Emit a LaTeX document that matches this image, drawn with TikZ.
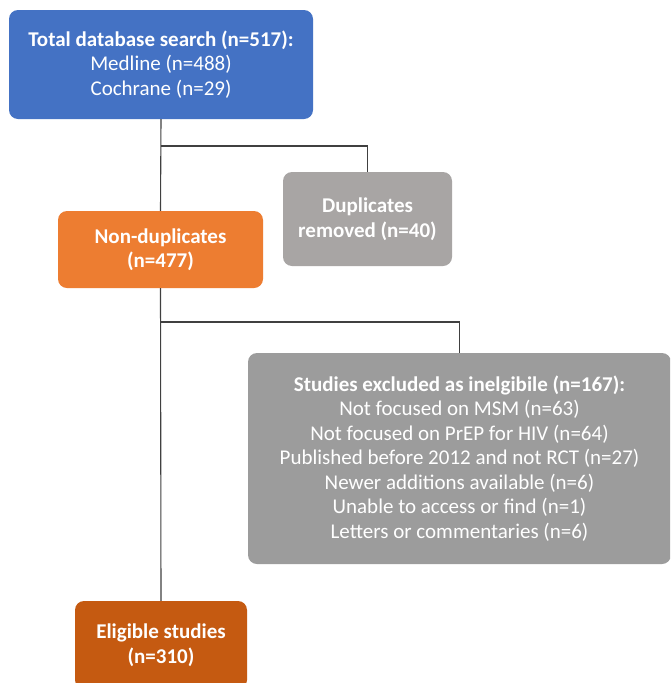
\documentclass[tikz,border=0pt]{standalone}
\usepackage{fontspec}
\setmainfont{Carlito}
\usepackage{tikz}
\usetikzlibrary{calc}
\definecolor{flowblue}{HTML}{4472C4}
\definecolor{floworange}{HTML}{ED7D31}
\definecolor{flowdark}{HTML}{C55A11}
\definecolor{flowgrey}{HTML}{A8A5A4}
\definecolor{flowgreyb}{HTML}{9C9C9C}
\definecolor{flowline}{HTML}{404040}

\begin{document}
\begin{tikzpicture}[x=1pt,y=-1pt,
	box/.style args={#1 and #2 and #3}{rounded corners=9pt,fill=#1,text=white,
		minimum width=#2,minimum height=#3,align=center,inner sep=0pt,
		font=\fontsize{21}{24.5}\selectfont},
	link/.style={draw=flowline,line width=1.1pt}]
	\clip (0,0) rectangle (670,683);
	\fill[white] (0,0) rectangle (670,683);
	\coordinate (B) at (161,146);
	\coordinate (C) at (161,322);
	\node [box={flowblue and 304pt and 109pt}] (search) at (161,64.5)
		{\textbf{Total database search (n=517):}\\Medline (n=488)\\Cochrane (n=29)};
	\node [box={flowgrey and 169pt and 94pt}] (dupl) at (367.5,219)
		{\textbf{Duplicates}\\\textbf{removed (n=40)}};
	\node [box={floworange and 205pt and 77pt}] (nondupl) at (160.5,249.5)
		{\textbf{Non-duplicates}\\\textbf{(n=477)}};
	\node [box={flowgreyb and 423pt and 211pt}] (excl) at (459.5,458.5)
		{\textbf{Studies excluded as inelgibile (n=167):}\\
		Not focused on MSM (n=63)\\
		Not focused on PrEP for HIV (n=64)\\
		Published before 2012 and not RCT (n=27)\\
		Newer additions available (n=6)\\
		Unable to access or find (n=1)\\
		Letters or commentaries (n=6)};
	\node [box={flowdark and 172pt and 88pt}] (elig) at (161,645)
		{\textbf{Eligible studies}\\\textbf{(n=310)}};
	% connectors
	\draw [link] (search.south) -- (nondupl.north);
	\draw [link] (nondupl.south) -- (elig.north);
	\draw [link] (B) -| (dupl.north);
	\draw [link] (C) -| (excl.north);
\end{tikzpicture}
\end{document}
